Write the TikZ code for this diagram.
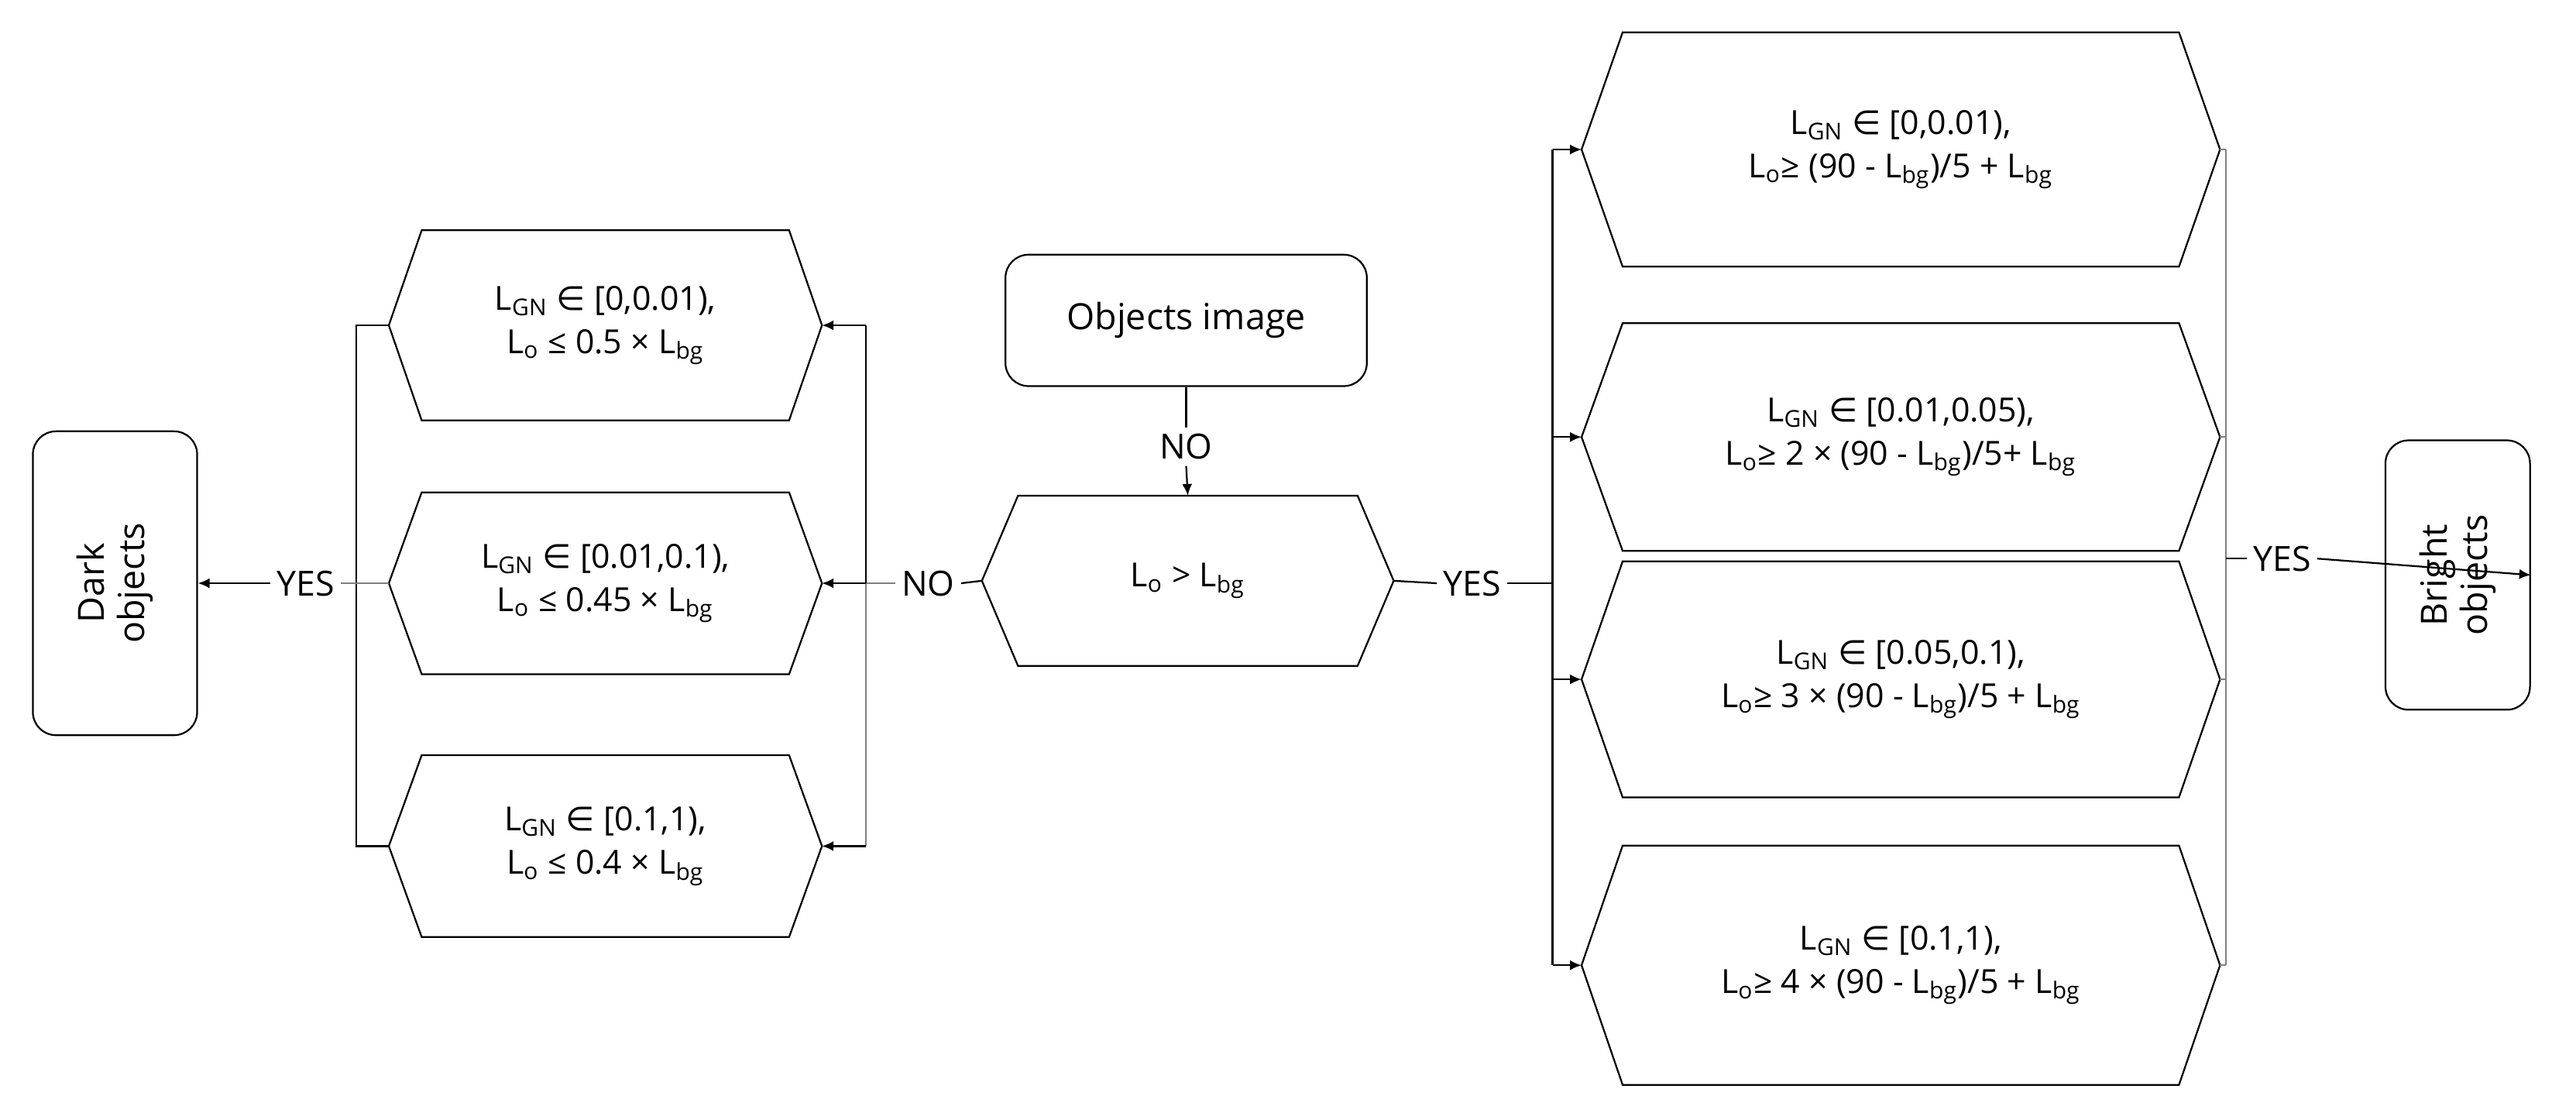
\documentclass[tikz,border=0pt]{standalone}
\usepackage{fontspec}
\setmainfont{Open Sans}
\newfontfamily\symf{DejaVu Sans}
\usetikzlibrary{arrows.meta}
\newcommand{\sub}[1]{\textsubscript{#1}}
\newcommand{\inn}{{\symf ∈}}
\newcommand{\hexnode}[7]{%
  \node[txt,minimum width=#4cm,minimum height=#5cm] (#1) at (#2,#3) {#7};
  \draw[shp] ([xshift=#6cm]#1.north west) -- ([xshift=-#6cm]#1.north east) -- (#1.east) -- ([xshift=-#6cm]#1.south east) -- ([xshift=#6cm]#1.south west) -- (#1.west) -- cycle;}
\begin{document}
\begin{tikzpicture}[x=0.02cm,y=-0.02cm,
  txt/.style={align=center,inner sep=0pt,font=\fontsize{11.5}{15}\selectfont},
  shp/.style={draw=black,line width=0.6pt},
  rbox/.style={draw,line width=0.6pt,rounded corners=8pt,align=center,font=\fontsize{12.5}{14}\selectfont},
  lab/.style={inner sep=2pt,font=\fontsize{12}{14}\selectfont},
  ln/.style={line width=0.6pt},
  arr/.style={line width=0.6pt,-{Latex[length=4pt,width=3.5pt]}}]
\useasboundingbox (0,0) rectangle (1568,677);
% left column
\hexnode{l1}{368.5}{198}{5.26}{2.3}{0.4}{L\sub{GN} \inn\ [0,0.01),\\L\sub{o} ≤ 0.5 × L\sub{bg}}
\hexnode{l2}{368.5}{355}{5.26}{2.2}{0.4}{L\sub{GN} \inn\ [0.01,0.1),\\L\sub{o} ≤ 0.45 × L\sub{bg}}
\hexnode{l3}{368.5}{515}{5.26}{2.2}{0.4}{L\sub{GN} \inn\ [0.1,1),\\L\sub{o} ≤ 0.4 × L\sub{bg}}
% center
\node[rbox,minimum width=4.4cm,minimum height=1.6cm] (obj) at (722,195) {Objects image};
\hexnode{c}{723}{353.5}{5.0}{2.06}{0.44}{L\sub{o} > L\sub{bg}}
% right column
\hexnode{r1}{1157}{91}{7.76}{2.84}{0.5}{L\sub{GN} \inn\ [0,0.01),\\L\sub{o}≥ (90 - L\sub{bg})/5 + L\sub{bg}}
\hexnode{r2}{1157}{266}{7.76}{2.76}{0.5}{L\sub{GN} \inn\ [0.01,0.05),\\L\sub{o}≥ 2 × (90 - L\sub{bg})/5+ L\sub{bg}}
\hexnode{r3}{1157}{413.5}{7.76}{2.86}{0.5}{L\sub{GN} \inn\ [0.05,0.1),\\L\sub{o}≥ 3 × (90 - L\sub{bg})/5 + L\sub{bg}}
\hexnode{r4}{1157}{587.5}{7.76}{2.9}{0.5}{L\sub{GN} \inn\ [0.1,1),\\L\sub{o}≥ 4 × (90 - L\sub{bg})/5 + L\sub{bg}}
% end boxes
\node[rbox,minimum width=3.7cm,minimum height=2.0cm,rotate=90] (dark) at (70,355) {Dark\\objects};
\node[rbox,minimum width=3.28cm,minimum height=1.76cm,rotate=90] (bright) at (1496,350) {Bright\\objects};
% labels
\node[lab] (no1) at (722,272) {NO};
\node[lab] (no2) at (565,355) {NO};
\node[lab] (yes1) at (186,355) {YES};
\node[lab] (yes2) at (896,355) {YES};
\node[lab] (yes3) at (1389,340) {YES};
\coordinate (lb) at (527,355);
\coordinate (lb1) at (527,198);
\coordinate (lb3) at (527,515);
\coordinate (ob) at (217,355);
\coordinate (ob1) at (217,198);
\coordinate (ob3) at (217,515);
\coordinate (rb) at (945,355);
\coordinate (rb1) at (945,91);
\coordinate (rb4) at (945,587.5);
\coordinate (eb) at (1355,340);
\coordinate (eb1) at (1355,91);
\coordinate (eb4) at (1355,587.5);
% connectors
\draw[ln] (obj.south) -- (no1.north);
\draw[arr] (no1.south) -- (c.north);
\draw[ln] (c.west) -- (no2.east);
\draw[ln,gray] (no2.west) -- (lb);
\draw[ln] (lb1) -- (lb);
\draw[ln,gray] (lb) -- (lb3);
\draw[arr] (lb1) -- (l1.east);
\draw[arr] (lb) -- (l2.east);
\draw[arr] (lb3) -- (l3.east);
\draw[ln] (l1.west) -- (ob1) -- (ob3) -- (l3.west);
\draw[ln,gray] (l2.west) -- (ob) -- (yes1.east);
\draw[arr] (yes1.west) -- (dark.south);
\draw[ln] (c.east) -- (yes2.west);
\draw[ln] (yes2.east) -- (rb);
\draw[ln] (rb1) -- (rb4);
\draw[arr] (rb1) -- (r1.west);
\draw[arr] (rb |- r2.west) -- (r2.west);
\draw[arr] (rb |- r3.west) -- (r3.west);
\draw[arr] (rb4) -- (r4.west);
\draw[ln,gray] (eb1) -- (eb4);
\draw[ln,gray] (r1.east) -- (eb1);
\draw[ln,gray] (r2.east) -- (eb |- r2.east);
\draw[ln,gray] (r3.east) -- (eb |- r3.east);
\draw[ln,gray] (r4.east) -- (eb4);
\draw[ln] (eb) -- (yes3.west);
\draw[arr] (yes3.east) -- (bright.south);
\end{tikzpicture}
\end{document}
